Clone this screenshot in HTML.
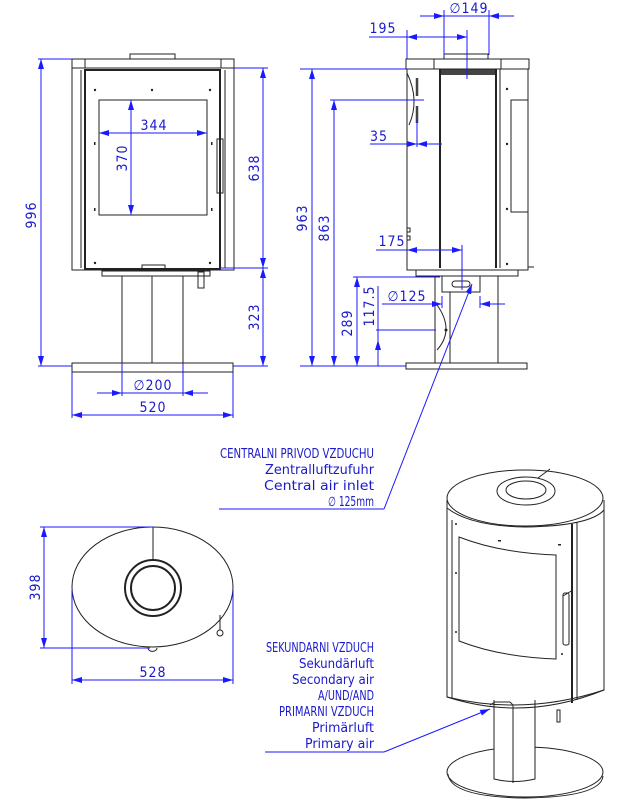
<!DOCTYPE html>
<html><head><meta charset="utf-8"><style>
html,body{margin:0;padding:0;background:#fff}
svg{display:block}
.k{fill:none;stroke:#222;stroke-width:1}
.kt{fill:none;stroke:#222;stroke-width:2}
.b{fill:none;stroke:#1a1aff;stroke-width:1}
.t{font-family:"DejaVu Sans Condensed","Liberation Sans Narrow","Liberation Sans",sans-serif;fill:#1a1acc;font-size:14px;letter-spacing:1px}
.s{font-family:"DejaVu Sans Condensed","Liberation Sans Narrow","Liberation Sans",sans-serif;fill:#1a1acc;font-size:13px}
</style></head><body>
<svg width="642" height="809" viewBox="0 0 642 809" xmlns="http://www.w3.org/2000/svg">
<defs>
<marker id="a" viewBox="0 0 10 6" refX="10" refY="3" markerWidth="10" markerHeight="6" orient="auto-start-reverse" markerUnits="userSpaceOnUse"><path d="M0,0L10,3L0,6z" fill="#1a1aff"/></marker>
</defs>

<!-- FRONT VIEW -->
<rect class="k" x="130" y="54" width="45" height="5"/>
<rect class="k" x="72" y="59" width="162" height="9"/>
<line class="k" x1="85" y1="59" x2="85" y2="68"/><line class="k" x1="221" y1="59" x2="221" y2="68"/>
<rect class="k" x="72" y="68" width="162" height="202"/>
<rect class="kt" x="85" y="70" width="135" height="199"/>
<line class="k" x1="81" y1="70" x2="81" y2="268"/><line class="k" x1="225" y1="70" x2="225" y2="268"/>
<rect class="k" x="99" y="100" width="108" height="115"/>
<rect class="k" x="217" y="139" width="6" height="54"/>
<g fill="#222"><circle cx="95" cy="90" r="1.2"/><circle cx="152" cy="90" r="1.2"/><circle cx="210" cy="90" r="1.2"/><rect x="94" y="142" width="1.5" height="3"/><rect x="211" y="142" width="1.5" height="3"/><rect x="94" y="208" width="1.5" height="3"/><rect x="211" y="208" width="1.5" height="3"/><circle cx="95" cy="263" r="1.2"/><circle cx="210" cy="263" r="1.2"/></g>
<rect class="k" x="142" y="265" width="23" height="4"/>
<rect class="k" x="102" y="271" width="108" height="5"/>
<rect class="k" x="198" y="272" width="6" height="16"/>
<rect class="k" x="122" y="276" width="61" height="87"/>
<line class="k" x1="152" y1="276" x2="152" y2="363"/>
<rect class="k" x="72" y="363" width="161" height="9"/>
<!-- front dims -->
<line class="b" x1="38" y1="59" x2="72" y2="59"/><line class="b" x1="38" y1="366" x2="72" y2="366"/>
<line class="b" x1="41" y1="59" x2="41" y2="366" marker-start="url(#a)" marker-end="url(#a)"/>
<text class="t" transform="translate(36,215) rotate(-90)" text-anchor="middle">996</text>
<line class="b" x1="234" y1="68" x2="268" y2="68"/><line class="b" x1="220" y1="268" x2="268" y2="268"/><line class="b" x1="233" y1="366" x2="268" y2="366"/>
<line class="b" x1="263" y1="68" x2="263" y2="268" marker-start="url(#a)" marker-end="url(#a)"/>
<line class="b" x1="263" y1="268" x2="263" y2="366" marker-start="url(#a)" marker-end="url(#a)"/>
<text class="t" transform="translate(259,168) rotate(-90)" text-anchor="middle">638</text>
<text class="t" transform="translate(259,317) rotate(-90)" text-anchor="middle">323</text>
<line class="b" x1="99" y1="133" x2="207" y2="133" marker-start="url(#a)" marker-end="url(#a)"/>
<text class="t" x="154" y="130" text-anchor="middle">344</text>
<line class="b" x1="131" y1="100" x2="131" y2="215" marker-start="url(#a)" marker-end="url(#a)"/>
<text class="t" transform="translate(127,158) rotate(-90)" text-anchor="middle">370</text>
<line class="b" x1="122" y1="363" x2="122" y2="396"/><line class="b" x1="183" y1="363" x2="183" y2="396"/>
<line class="b" x1="97" y1="393" x2="122" y2="393" marker-end="url(#a)"/>
<line class="b" x1="208" y1="393" x2="183" y2="393" marker-end="url(#a)"/>
<line class="b" x1="122" y1="393" x2="183" y2="393"/>
<text class="t" x="153" y="390" text-anchor="middle">∅200</text>
<line class="b" x1="72" y1="372" x2="72" y2="418"/><line class="b" x1="233" y1="372" x2="233" y2="418"/>
<line class="b" x1="72" y1="415" x2="233" y2="415" marker-start="url(#a)" marker-end="url(#a)"/>
<text class="t" x="153" y="412" text-anchor="middle">520</text>

<!-- SIDE VIEW -->
<rect class="k" x="444" y="54" width="44" height="5"/>
<rect class="k" x="406" y="59" width="123" height="10"/>
<line class="k" x1="434" y1="59" x2="434" y2="69"/><line class="k" x1="501" y1="59" x2="501" y2="69"/>
<rect x="440" y="69" width="55" height="6" fill="#444"/>
<rect class="k" x="407" y="69" width="121" height="201"/>
<line class="kt" x1="440" y1="69" x2="440" y2="268"/>
<line class="kt" x1="496" y1="69" x2="496" y2="268"/>
<line class="k" x1="500" y1="69" x2="500" y2="268"/>
<polyline class="k" points="528,100 511,100 511,212 528,212"/>
<path class="k" d="M407,73 Q420,100 409,125"/>
<line x1="417" y1="78" x2="417" y2="96" stroke="#444" stroke-width="2.5"/>
<line x1="417" y1="106" x2="417" y2="123" stroke="#444" stroke-width="2.5"/>
<path class="k" d="M407,228 h3 v4 h-3 v4 h3 v4 h-3"/>
<g fill="#222"><circle cx="507" cy="89" r="1.2"/><circle cx="507" cy="144" r="1.2"/><circle cx="507" cy="209" r="1.2"/><circle cx="507" cy="264" r="1.2"/></g>
<line class="k" x1="528" y1="267" x2="534" y2="267"/>
<rect class="k" x="416" y="270" width="102" height="6"/>
<rect class="k" x="435" y="276" width="63" height="87"/>
<rect class="k" x="442" y="276" width="38" height="16"/>
<rect class="k" x="452" y="281" width="18" height="6" rx="3"/>
<line class="k" x1="450" y1="292" x2="450" y2="363"/>
<path class="k" d="M437,305 Q455,330 437,350" stroke-width="1.5"/>
<circle cx="446" cy="330" r="1.5" fill="#222"/>
<rect class="k" x="406" y="363" width="121" height="6"/>
<!-- side dims -->
<line class="b" x1="300" y1="69" x2="407" y2="69"/><line class="b" x1="300" y1="366" x2="406" y2="366"/>
<line class="b" x1="312" y1="69" x2="312" y2="366" marker-start="url(#a)" marker-end="url(#a)"/>
<text class="t" transform="translate(307,218) rotate(-90)" text-anchor="middle">963</text>
<line class="b" x1="330" y1="100" x2="424" y2="100"/>
<line class="b" x1="334" y1="100" x2="334" y2="366" marker-start="url(#a)" marker-end="url(#a)"/>
<text class="t" transform="translate(329,228) rotate(-90)" text-anchor="middle">863</text>
<line class="b" x1="353" y1="277" x2="440" y2="277"/>
<line class="b" x1="357" y1="277" x2="357" y2="366" marker-start="url(#a)" marker-end="url(#a)"/>
<text class="t" transform="translate(352,323) rotate(-90)" text-anchor="middle">289</text>
<line class="b" x1="376" y1="330" x2="436" y2="330"/>
<line class="b" x1="378" y1="286" x2="378" y2="330"/>
<line class="b" x1="378" y1="340" x2="378" y2="366" marker-start="url(#a)"/>
<line class="b" x1="378" y1="330" x2="378" y2="340"/>
<text class="t" transform="translate(374,306) rotate(-90)" text-anchor="middle">117.5</text>
<line class="b" x1="407" y1="30" x2="407" y2="59"/><line class="b" x1="467" y1="30" x2="467" y2="79"/>
<line class="b" x1="369" y1="37" x2="407" y2="37"/>
<line class="b" x1="407" y1="37" x2="467" y2="37" marker-start="url(#a)" marker-end="url(#a)"/>
<text class="t" x="383" y="33" text-anchor="middle">195</text>
<line class="b" x1="444" y1="10" x2="444" y2="55"/><line class="b" x1="489" y1="10" x2="489" y2="55"/>
<line class="b" x1="420" y1="16" x2="444" y2="16" marker-end="url(#a)"/>
<line class="b" x1="514" y1="16" x2="489" y2="16" marker-end="url(#a)"/>
<line class="b" x1="444" y1="16" x2="489" y2="16"/>
<text class="t" x="469" y="13" text-anchor="middle">∅149</text>
<line class="b" x1="370" y1="144" x2="391" y2="144"/>
<line class="b" x1="391" y1="144" x2="417" y2="144" marker-end="url(#a)"/>
<line class="b" x1="442" y1="144" x2="417" y2="144" marker-end="url(#a)"/>
<line class="b" x1="417" y1="120" x2="417" y2="147"/>
<text class="t" x="379" y="141" text-anchor="middle">35</text>
<line class="b" x1="376" y1="250" x2="407" y2="250"/>
<line class="b" x1="407" y1="250" x2="462" y2="250" marker-start="url(#a)" marker-end="url(#a)"/>
<line class="b" x1="462" y1="245" x2="462" y2="290"/>
<text class="t" x="392" y="246" text-anchor="middle">175</text>
<line class="b" x1="382" y1="304" x2="406" y2="304"/>
<line class="b" x1="406" y1="304" x2="442" y2="304" marker-end="url(#a)"/>
<line class="b" x1="505" y1="304" x2="480" y2="304" marker-end="url(#a)"/>
<line class="b" x1="442" y1="296" x2="442" y2="308"/><line class="b" x1="480" y1="296" x2="480" y2="308"/>
<text class="t" x="407" y="301" text-anchor="middle">∅125</text>

<!-- leader central air -->
<line class="b" x1="472" y1="284" x2="384" y2="509" marker-start="url(#a)"/>
<line class="b" x1="219" y1="509" x2="384" y2="509"/>
<g class="s">
<text x="220" y="458" textLength="154" lengthAdjust="spacingAndGlyphs">CENTRALNI PRIVOD VZDUCHU</text>
<text x="265" y="474" textLength="109" lengthAdjust="spacingAndGlyphs">Zentralluftzufuhr</text>
<text x="264" y="490" textLength="110" lengthAdjust="spacingAndGlyphs">Central air inlet</text>
<text x="328" y="506" textLength="46" lengthAdjust="spacingAndGlyphs">∅ 125mm</text>
</g>

<!-- TOP VIEW -->
<ellipse class="k" cx="152.5" cy="587" rx="80.5" ry="60"/>
<line class="k" x1="153" y1="527" x2="153" y2="560" stroke-width="1.5"/>
<circle class="kt" cx="153" cy="588" r="28"/>
<circle class="kt" cx="153" cy="588" r="22"/>
<line class="k" x1="220" y1="615" x2="220" y2="630"/>
<circle class="k" cx="220" cy="633" r="3"/>
<path class="k" d="M148,648 a4,3 0 0 0 9,0"/>
<line class="b" x1="40" y1="527" x2="153" y2="527"/><line class="b" x1="40" y1="648" x2="150" y2="648"/>
<line class="b" x1="44" y1="527" x2="44" y2="648" marker-start="url(#a)" marker-end="url(#a)"/>
<text class="t" transform="translate(40,587) rotate(-90)" text-anchor="middle">398</text>
<line class="b" x1="72" y1="590" x2="72" y2="684"/><line class="b" x1="233" y1="590" x2="233" y2="684"/>
<line class="b" x1="72" y1="680" x2="233" y2="680" marker-start="url(#a)" marker-end="url(#a)"/>
<text class="t" x="153" y="677" text-anchor="middle">528</text>

<!-- 3D VIEW -->
<ellipse class="k" cx="525" cy="772" rx="78" ry="25"/>
<path class="k" d="M448,774 Q450,797 525,798 Q601,797 603,776"/>
<rect x="494" y="700" width="41" height="80" fill="#fff"/>
<path class="k" d="M494,700 V779 Q514,784 535,779 V700"/>
<line class="k" x1="513" y1="705" x2="513" y2="783"/>
<path class="k" d="M447,500 V697 Q525,722 604,690 V500" fill="#fff"/>
<line class="k" x1="452" y1="520" x2="452" y2="699"/>
<path class="k" d="M447,697 Q525,716 604,690"/>
<ellipse class="k" cx="525" cy="498" rx="78" ry="28" fill="#fff"/>
<path class="k" d="M447,500 V508 Q470,526 525,527 Q590,526 604,510 V500"/>
<ellipse class="k" cx="526" cy="491" rx="29" ry="14" stroke-width="1.5"/>
<ellipse class="k" cx="526" cy="490" rx="20" ry="9" stroke-width="1.5"/>
<line class="k" x1="538" y1="478" x2="550" y2="469"/>
<line class="kt" x1="572" y1="524" x2="572" y2="703"/>
<line class="k" x1="577" y1="522" x2="577" y2="700"/>
<path class="k" d="M459,537 Q500,553 556,555 V659 Q500,657 459,641 Z"/>
<rect class="k" x="563" y="593" width="6" height="52" rx="2"/>
<path class="k" d="M563,596 l10,-6"/>
<g fill="#222"><circle cx="456" cy="524" r="1"/><circle cx="456" cy="573" r="1"/><circle cx="456" cy="632" r="1"/><rect x="498" y="540" width="3" height="1.5"/><rect x="558" y="544" width="3" height="1.5"/><circle cx="562" cy="654" r="1"/></g>
<path class="k" d="M490,705 l5,-3 h15 l3,3"/>
<rect class="k" x="557" y="710" width="3" height="12"/>
<!-- leader secondary/primary -->
<line class="b" x1="384" y1="752" x2="490" y2="709" marker-end="url(#a)"/>
<line class="b" x1="265" y1="752" x2="384" y2="752"/>
<g class="s">
<text x="266" y="652" textLength="108" lengthAdjust="spacingAndGlyphs">SEKUNDARNI VZDUCH</text>
<text x="299" y="668" textLength="75" lengthAdjust="spacingAndGlyphs">Sekundärluft</text>
<text x="292" y="684" textLength="82" lengthAdjust="spacingAndGlyphs">Secondary air</text>
<text x="318" y="700" textLength="56" lengthAdjust="spacingAndGlyphs">A/UND/AND</text>
<text x="279" y="716" textLength="95" lengthAdjust="spacingAndGlyphs">PRIMARNI VZDUCH</text>
<text x="312" y="732" textLength="62" lengthAdjust="spacingAndGlyphs">Primärluft</text>
<text x="305" y="748" textLength="69" lengthAdjust="spacingAndGlyphs">Primary air</text>
</g>
</svg>
</body></html>
